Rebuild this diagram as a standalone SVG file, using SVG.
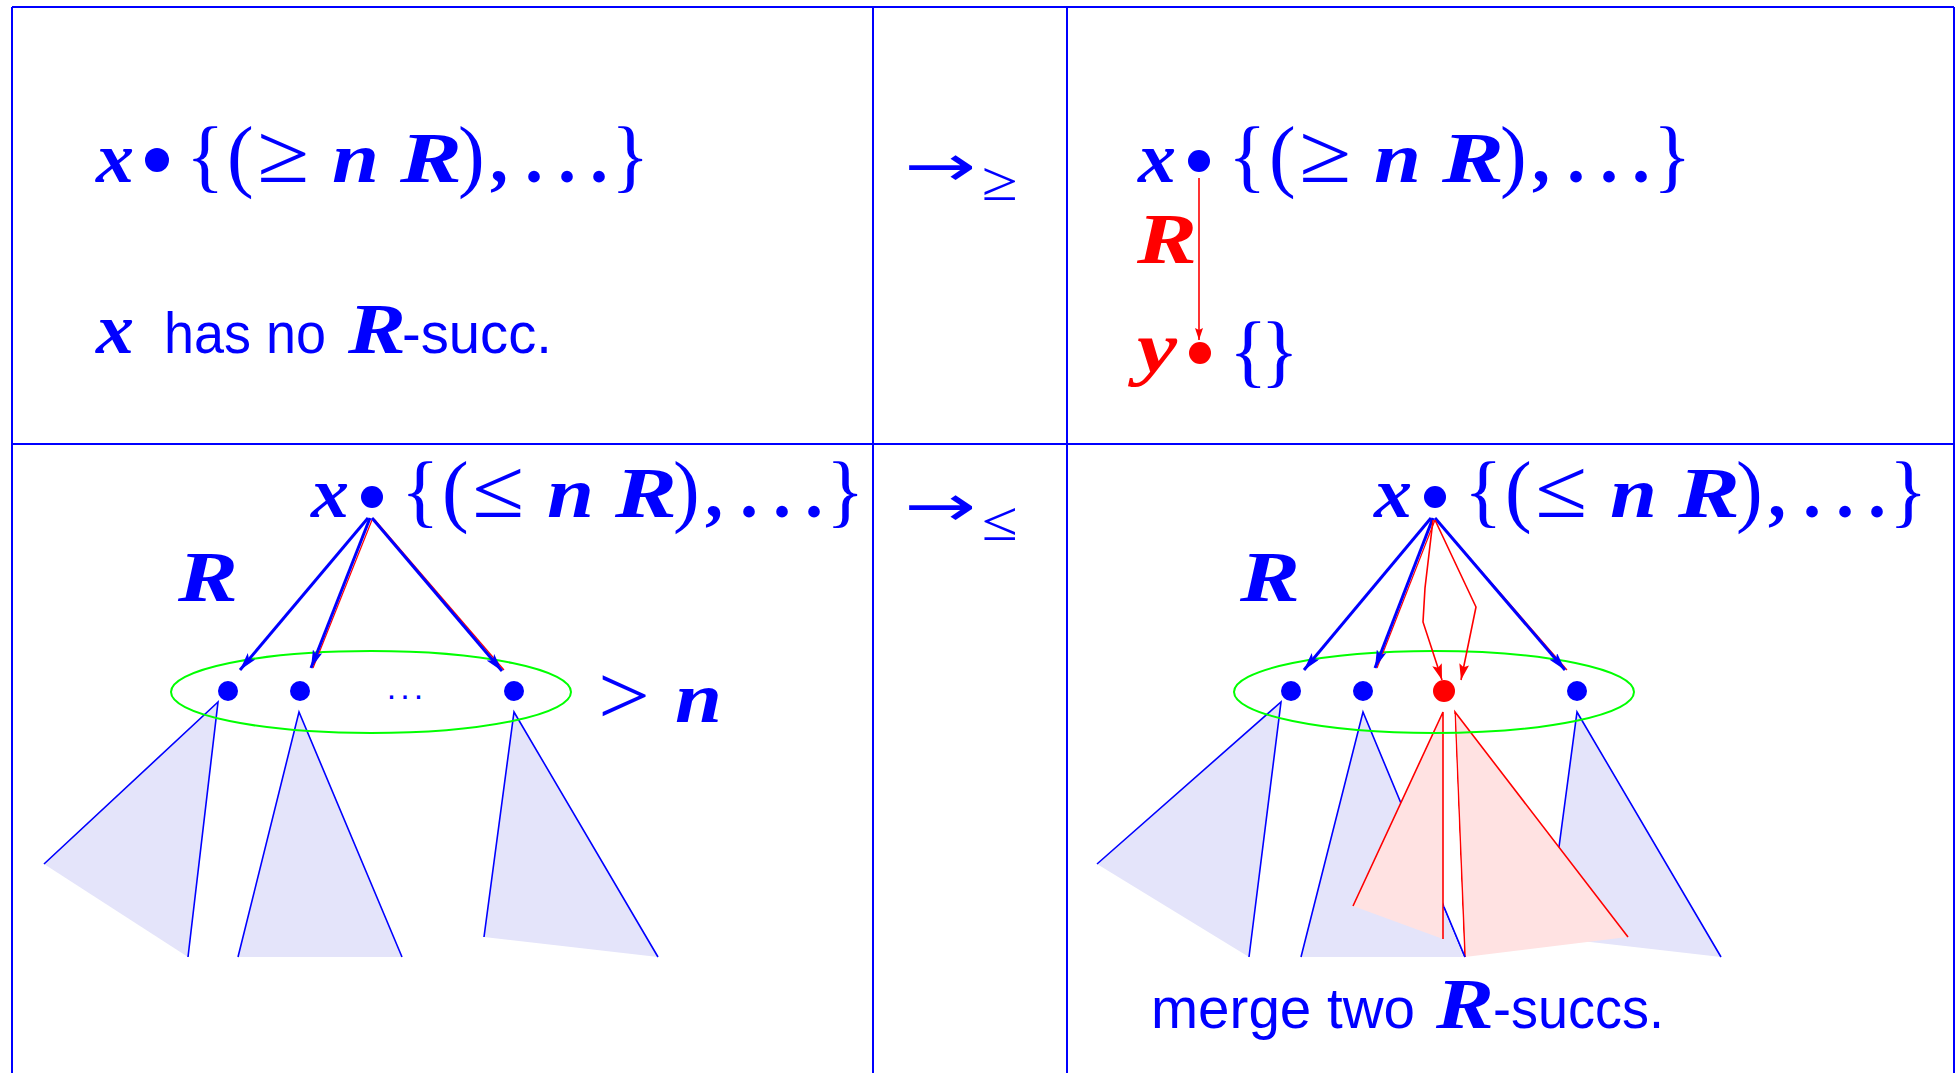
<svg xmlns="http://www.w3.org/2000/svg" width="1960" height="1073" viewBox="0 0 1960 1073">
<style>
.m{font-family:"Liberation Serif","DejaVu Serif",serif;font-style:italic;font-weight:bold;font-size:72px}
.r{font-family:"Liberation Serif","DejaVu Serif",serif;font-size:80px}
.rb{font-family:"Liberation Serif","DejaVu Serif",serif;font-size:72px;font-weight:bold}
.rel{font-family:"Liberation Serif","DejaVu Serif",serif;font-size:84px}
.sub{font-family:"Liberation Serif","DejaVu Serif",serif;font-size:56px}
.arr{font-family:"DejaVu Sans","Liberation Sans",sans-serif;font-size:58px}
.s{font-family:"Liberation Sans","DejaVu Sans",sans-serif;font-size:57px}
.b{fill:#0000ff}
.red{fill:#ff0000}
.frame{stroke:#0000ff;stroke-width:2;fill:none}
.tri{fill:#e4e4fa;stroke:none}
.tedge{stroke:#0000ff;stroke-width:1.6;fill:none}
.ptri{fill:#ffe2e2;stroke:none}
.pedge{stroke:#ff0000;stroke-width:1.6;fill:none}
.set{fill:none;stroke:#00ff00;stroke-width:2}
.ba{stroke:#0000ff;stroke-width:3;fill:none;marker-end:url(#ab)}
.rf{stroke:#ff0000;stroke-width:1.2;fill:none}
.ra{stroke:#ff0000;stroke-width:1.6;fill:none;marker-end:url(#ar)}
</style>
<defs>
<marker id="ab" markerUnits="userSpaceOnUse" markerWidth="18" markerHeight="10" viewBox="0 0 18 10" refX="18" refY="5" orient="auto"><path d="M0,0 L18,5 L0,10 L4,5 z" fill="#0000ff"/></marker>
<marker id="ar" markerUnits="userSpaceOnUse" markerWidth="16" markerHeight="10" viewBox="0 0 16 10" refX="16" refY="5" orient="auto"><path d="M0,0 L16,5 L0,10 L3,5 z" fill="#ff0000"/></marker>
<marker id="ars" markerUnits="userSpaceOnUse" markerWidth="12" markerHeight="8" viewBox="0 0 12 8" refX="12" refY="4" orient="auto"><path d="M0,0 L12,4 L0,8 L2,4 z" fill="#ff0000"/></marker>
</defs>
<rect width="1960" height="1073" fill="#ffffff"/>

<g id="frame" class="frame">
<line x1="12" y1="7" x2="1954" y2="7"/>
<line x1="12" y1="444" x2="1954" y2="444"/>
<line x1="12" y1="7" x2="12" y2="1073"/>
<line x1="873" y1="7" x2="873" y2="1073"/>
<line x1="1067" y1="7" x2="1067" y2="1073"/>
<line x1="1954" y1="7" x2="1954" y2="1073"/>
</g>

<!-- top-left cell -->
<g id="tl-x">
<text class="m b" x="96" y="182" textLength="38" lengthAdjust="spacingAndGlyphs">x</text>
<circle cx="157" cy="160" r="12" fill="#0000ff"/>
<text class="r b" x="186" y="182">{</text>
<text class="r b" x="227" y="182">(</text>
<text class="rel b" x="257" y="182" textLength="52" lengthAdjust="spacingAndGlyphs">≥</text>
<text class="m b" x="332" y="182" textLength="47" lengthAdjust="spacingAndGlyphs">n</text>
<text class="m b" x="400" y="182" textLength="62" lengthAdjust="spacingAndGlyphs">R</text>
<text class="r b" x="458" y="182">)</text>
<text class="rb b" x="490" y="182">,</text>
<text class="rb b" y="182" text-anchor="middle"><tspan x="534">.</tspan><tspan x="567">.</tspan><tspan x="599">.</tspan></text>
<text class="r b" x="611" y="182">}</text>
</g>
<g id="tl-note">
<text class="m b" x="96" y="353" textLength="38" lengthAdjust="spacingAndGlyphs">x</text>
<text class="s b" x="164" y="353" textLength="162" lengthAdjust="spacingAndGlyphs">has no</text>
<text class="m b" x="348" y="353" textLength="58" lengthAdjust="spacingAndGlyphs">R</text>
<text class="s b" x="402" y="353" textLength="150" lengthAdjust="spacingAndGlyphs">-succ.</text>
</g>

<!-- rule labels -->
<g id="rule-ge">
<text class="arr b" x="904" y="186" textLength="72" lengthAdjust="spacingAndGlyphs">→</text>
<text class="sub b" x="982" y="200" textLength="36" lengthAdjust="spacingAndGlyphs">≥</text>
</g>
<g id="rule-le">
<text class="arr b" x="904" y="526" textLength="72" lengthAdjust="spacingAndGlyphs">→</text>
<text class="sub b" x="982" y="540" textLength="36" lengthAdjust="spacingAndGlyphs">≤</text>
</g>

<!-- top-right cell -->
<g id="connectors-top">
<line x1="1199" y1="178" x2="1199" y2="340" stroke="#ff0000" stroke-width="1.6" marker-end="url(#ars)"/>
<text class="m red" x="1137" y="263" textLength="60" lengthAdjust="spacingAndGlyphs">R</text>
</g>
<g id="tr-x">
<text class="m b" x="1138" y="182" textLength="38" lengthAdjust="spacingAndGlyphs">x</text>
<circle cx="1199" cy="161" r="11" fill="#0000ff"/>
<g transform="translate(1042,0)">
<text class="r b" x="186" y="182">{</text>
<text class="r b" x="227" y="182">(</text>
<text class="rel b" x="257" y="182" textLength="52" lengthAdjust="spacingAndGlyphs">≥</text>
<text class="m b" x="332" y="182" textLength="47" lengthAdjust="spacingAndGlyphs">n</text>
<text class="m b" x="400" y="182" textLength="62" lengthAdjust="spacingAndGlyphs">R</text>
<text class="r b" x="458" y="182">)</text>
<text class="rb b" x="490" y="182">,</text>
<text class="rb b" y="182" text-anchor="middle"><tspan x="534">.</tspan><tspan x="567">.</tspan><tspan x="599">.</tspan></text>
<text class="r b" x="611" y="182">}</text>
</g>
</g>
<g id="tr-y">
<text class="m red" x="1137" y="372" textLength="40" lengthAdjust="spacingAndGlyphs">y</text>
<circle cx="1200" cy="353" r="11" fill="#ff0000"/>
<text class="r b" x="1229" y="377" textLength="70">{}</text>
</g>

<!-- bottom-left cell: trees -->
<g id="bl-trees">
<polygon class="tri" points="218,702 44,864 188,957"/>
<polyline class="tedge" points="44,864 218,702 188,957"/>
<polygon class="tri" points="299,712 238,957 402,957"/>
<polyline class="tedge" points="238,957 299,712 402,957"/>
<polygon class="tri" points="514,712 484,937 658,957"/>
<polyline class="tedge" points="484,937 514,712 658,957"/>
</g>
<g id="bl-set">
<ellipse class="set" cx="371" cy="692" rx="200" ry="41"/>
<text class="s b" x="407" y="699" text-anchor="middle" style="font-size:34px;letter-spacing:4px">...</text>
<text class="rel b" x="598" y="724" textLength="52" lengthAdjust="spacingAndGlyphs">&gt;</text>
<text class="m b" x="675" y="722" textLength="47" lengthAdjust="spacingAndGlyphs">n</text>
</g>
<g id="connectors-bl">
<line class="rf" x1="372" y1="520" x2="313" y2="668"/>
<line class="rf" x1="374" y1="519" x2="504" y2="670"/>
<line class="ba" x1="368" y1="518" x2="240" y2="670"/>
<line class="ba" x1="370" y1="518" x2="311" y2="668"/>
<line class="ba" x1="372" y1="518" x2="502" y2="671"/>
<text class="m b" x="178" y="601" textLength="60" lengthAdjust="spacingAndGlyphs">R</text>
</g>
<g id="bl-x" transform="translate(215,335)">
<text class="m b" x="96" y="182" textLength="38" lengthAdjust="spacingAndGlyphs">x</text>
<circle cx="157" cy="162" r="11" fill="#0000ff"/>
<text class="r b" x="186" y="182">{</text>
<text class="r b" x="227" y="182">(</text>
<text class="rel b" x="257" y="182" textLength="52" lengthAdjust="spacingAndGlyphs">≤</text>
<text class="m b" x="332" y="182" textLength="47" lengthAdjust="spacingAndGlyphs">n</text>
<text class="m b" x="400" y="182" textLength="62" lengthAdjust="spacingAndGlyphs">R</text>
<text class="r b" x="458" y="182">)</text>
<text class="rb b" x="490" y="182">,</text>
<text class="rb b" y="182" text-anchor="middle"><tspan x="534">.</tspan><tspan x="567">.</tspan><tspan x="599">.</tspan></text>
<text class="r b" x="611" y="182">}</text>
</g>
<g id="bl-s1"><circle cx="228" cy="691" r="10" fill="#0000ff"/></g>
<g id="bl-s2"><circle cx="300" cy="691" r="10" fill="#0000ff"/></g>
<g id="bl-s3"><circle cx="514" cy="691" r="10" fill="#0000ff"/></g>

<!-- bottom-right cell: trees -->
<g id="br-trees">
<polygon class="tri" points="1281,702 1097,864 1249,957"/>
<polyline class="tedge" points="1097,864 1281,702 1249,957"/>
<polygon class="tri" points="1363,712 1301,957 1465,957"/>
<polyline class="tedge" points="1301,957 1363,712 1465,957"/>
<polygon class="tri" points="1577,712 1547,937 1721,957"/>
<polyline class="tedge" points="1547,937 1577,712 1721,957"/>
<polygon class="ptri" points="1443,712 1353,906 1443,939"/>
<polyline class="pedge" points="1353,906 1443,712 1443,939"/>
<polygon class="ptri" points="1455,712 1465,957 1628,937"/>
<polyline class="pedge" points="1465,957 1455,712 1628,937"/>
<polygon points="1444.5,714 1454.5,714 1464,955 1444.5,907" fill="#ffffff"/>
<line class="tedge" x1="1444" y1="907" x2="1465" y2="957"/>
</g>
<g id="br-set">
<ellipse class="set" cx="1434" cy="692" rx="200" ry="41"/>
</g>
<g id="connectors-br">
<line class="rf" x1="1435" y1="520" x2="1377" y2="668"/>
<line class="rf" x1="1436" y1="519" x2="1567" y2="670"/>
<line class="ba" x1="1431" y1="518" x2="1304" y2="670"/>
<line class="ba" x1="1433" y1="518" x2="1375" y2="668"/>
<line class="ba" x1="1435" y1="518" x2="1565" y2="670"/>
<polyline class="ra" points="1433,520 1425,588 1423,622 1442,680"/>
<polyline class="ra" points="1435,520 1476,607 1461,680"/>
<text class="m b" x="1240" y="601" textLength="60" lengthAdjust="spacingAndGlyphs">R</text>
</g>
<g id="br-x" transform="translate(1278,335)">
<text class="m b" x="96" y="182" textLength="38" lengthAdjust="spacingAndGlyphs">x</text>
<circle cx="157" cy="162" r="11" fill="#0000ff"/>
<text class="r b" x="186" y="182">{</text>
<text class="r b" x="227" y="182">(</text>
<text class="rel b" x="257" y="182" textLength="52" lengthAdjust="spacingAndGlyphs">≤</text>
<text class="m b" x="332" y="182" textLength="47" lengthAdjust="spacingAndGlyphs">n</text>
<text class="m b" x="400" y="182" textLength="62" lengthAdjust="spacingAndGlyphs">R</text>
<text class="r b" x="458" y="182">)</text>
<text class="rb b" x="490" y="182">,</text>
<text class="rb b" y="182" text-anchor="middle"><tspan x="534">.</tspan><tspan x="567">.</tspan><tspan x="599">.</tspan></text>
<text class="r b" x="611" y="182">}</text>
</g>
<g id="br-s1"><circle cx="1291" cy="691" r="10" fill="#0000ff"/></g>
<g id="br-s2"><circle cx="1363" cy="691" r="10" fill="#0000ff"/></g>
<g id="br-s3"><circle cx="1444" cy="691" r="11" fill="#ff0000"/></g>
<g id="br-s4"><circle cx="1577" cy="691" r="10" fill="#0000ff"/></g>
<g id="br-note">
<text class="s b" x="1151" y="1028" textLength="264" lengthAdjust="spacingAndGlyphs">merge two</text>
<text class="m b" x="1436" y="1028" textLength="58" lengthAdjust="spacingAndGlyphs">R</text>
<text class="s b" x="1493" y="1028" textLength="171" lengthAdjust="spacingAndGlyphs">-succs.</text>
</g>
</svg>
